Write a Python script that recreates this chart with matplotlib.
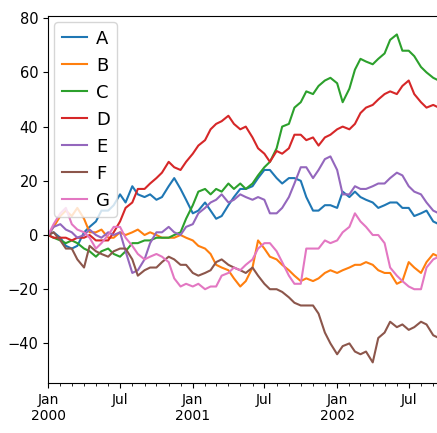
import numpy as np
import pandas as pd
import matplotlib
matplotlib.use('Agg')
import matplotlib.pyplot as plt
import matplotlib.dates as mdates
from matplotlib.ticker import FuncFormatter

# readings on the 1st and 15th of each month, Jan 2000 .. Sep 2002, plus the last day
dates = list(pd.date_range('2000-01-01', '2002-09-15', freq='SMS')) + [pd.Timestamp('2002-09-26')]

A = [0, 1, -1, -4, -5, -4, 1, 3, 5, 9, 9, 11, 15, 12, 18, 15, 14, 15, 13, 14, 18, 21,
     17, 13, 8, 9, 12, 9, 6, 7, 11, 14, 17, 17, 18, 21, 24, 24, 21, 19, 21, 21, 20, 14,
     9, 9, 11, 11, 10, 16, 14, 16, 14, 13, 12, 10, 11, 12, 12, 10, 10, 7, 8, 9, 5, 4, 3]
B = [0, 3, 7, 9, 7, 10, 6, 1, 1, 2, -1, -1, 1, 0, 1, 2, 0, 1, 0, -1, -1, -1,
     0, -1, -2, -4, -5, -7, -11, -12, -13, -16, -19, -17, -12, -2, -5, -8, -9, -11, -13, -15, -17, -16,
     -17, -16, -14, -13, -14, -13, -12, -11, -11, -10, -11, -13, -14, -14, -18, -17, -10, -12, -14, -10, -7, -8, -9]
C = [0, -1, -2, -3, -2, -3, -5, -6, -8, -6, -5, -7, -8, -6, -3, -3, -2, -2, -1, -1, -1, 0,
     1, 6, 11, 16, 17, 15, 17, 16, 19, 17, 19, 17, 19, 22, 25, 27, 32, 40, 41, 47, 49, 53,
     52, 55, 57, 58, 56, 49, 54, 61, 65, 64, 63, 65, 67, 72, 74, 68, 68, 66, 62, 60, 58, 57, 57]
D = [0, -1, -1, -1, -2, -1, -1, 0, -2, -2, -2, 1, 5, 10, 12, 17, 17, 19, 21, 23, 27, 25,
     24, 27, 30, 33, 35, 39, 41, 42, 44, 41, 39, 40, 36, 32, 30, 27, 31, 30, 32, 37, 37, 35,
     36, 33, 36, 37, 39, 40, 39, 41, 45, 47, 48, 50, 52, 53, 52, 55, 57, 52, 49, 47, 48, 47, 47]
E = [0, 3, 4, 2, 1, -1, 0, 2, 0, -1, 1, 0, 1, -6, -14, -13, -9, -3, 1, 1, 3, 1,
     0, 3, 4, 8, 10, 12, 13, 15, 12, 13, 15, 14, 13, 14, 13, 8, 8, 10, 14, 19, 25, 25,
     21, 24, 28, 29, 24, 15, 15, 18, 17, 17, 18, 19, 19, 21, 23, 22, 18, 16, 15, 12, 9, 8, 7]
F = [0, 1, -2, -5, -5, -9, -12, -4, -6, -7, -8, -6, -5, -5, -9, -15, -13, -12, -12, -10, -8, -9,
     -11, -11, -14, -15, -14, -13, -10, -9, -11, -12, -13, -14, -12, -15, -18, -20, -20, -21, -23, -25, -26, -26,
     -26, -29, -36, -40, -44, -41, -40, -43, -44, -43, -47, -38, -36, -32, -34, -33, -35, -34, -32, -33, -37, -38, -39]
G = [0, 4, 8, 10, 4, 2, 1, -1, -5, -3, 0, 3, 3, -1, -4, -7, -9, -8, -7, -8, -10, -16,
     -19, -18, -19, -18, -20, -19, -19, -15, -14, -12, -13, -11, -9, -5, -3, -3, -6, -10, -15, -18, -18, -5,
     -5, -5, -2, -3, -2, 1, 3, 8, 5, 3, 0, 0, -3, -12, -15, -17, -19, -20, -20, -12, -9, -8, -7]

series = {'A': A, 'B': B, 'C': C, 'D': D, 'E': E, 'F': F, 'G': G}
colors = ['#1f77b4', '#ff7f0e', '#2ca02c', '#d62728', '#9467bd', '#8c564b', '#e377c2']

fig = plt.figure(figsize=(4.37, 4.33), dpi=100)
ax = fig.add_axes([0.110, 0.1155, 0.904, 0.8475])

for (name, vals), c in zip(series.items(), colors):
    ax.plot(dates, vals, color=c, lw=1.5, label=name)

ax.set_xlim(dates[0], dates[-1])
ax.set_ylim(-54.6, 80.8)
ax.set_yticks([-40, -20, 0, 20, 40, 60, 80])

ax.xaxis.set_major_locator(mdates.MonthLocator(bymonth=[1, 7]))
ax.xaxis.set_minor_locator(mdates.MonthLocator())


def fmt(x, pos):
    d = mdates.num2date(x)
    if d.month == 1:
        return d.strftime('Jan\n%Y')
    return d.strftime('%b')


ax.xaxis.set_major_formatter(FuncFormatter(fmt))
ax.tick_params(axis='y', labelsize=10.5)
ax.tick_params(axis='x', labelsize=10)

ax.legend(loc='upper left', fontsize=13, handlelength=1.4, handletextpad=0.5,
          labelspacing=0.5, borderaxespad=0.35)

fig.savefig('out.png', dpi=100)
